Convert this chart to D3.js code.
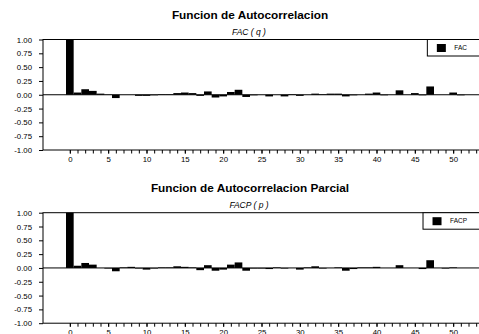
<!DOCTYPE html>
<html>
<head>
<meta charset="utf-8">
<script src="https://cdn.jsdelivr.net/npm/d3@7"></script>
<style>
  body { margin: 0; background: #fff; }
  svg { display: block; font-family: "Liberation Sans", Arial, sans-serif; }
</style>
</head>
<body>
<div id="chart"></div>
<script>
// lags 0..51
const lags = d3.range(0, 52);
const facValues = [1.00, 0.04, 0.10, 0.07, 0.02, 0.005, -0.06, 0.00, 0.00, -0.02,
  -0.02, -0.01, 0.01, 0.01, 0.03, 0.04, 0.03, -0.02, 0.06, -0.05,
  -0.03, 0.05, 0.09, -0.04, -0.01, 0.00, -0.03, 0.00, -0.03, 0.01,
  -0.02, 0.00, 0.02, 0.01, 0.02, 0.02, -0.03, -0.01, 0.00, 0.02,
  0.04, -0.01, 0.00, 0.08, 0.00, 0.03, -0.01, 0.15, 0.00, 0.00,
  0.04, -0.01];
const facpValues = [1.00, 0.04, 0.09, 0.06, 0.00, -0.01, -0.06, 0.01, 0.02, -0.01,
  -0.03, -0.01, 0.01, 0.01, 0.03, 0.02, 0.01, -0.04, 0.05, -0.05,
  -0.03, 0.06, 0.10, -0.05, -0.01, -0.01, -0.02, 0.01, -0.01, 0.00,
  -0.03, 0.01, 0.03, -0.01, 0.00, 0.01, -0.05, -0.02, 0.01, 0.01,
  0.02, 0.00, 0.00, 0.05, 0.00, 0.00, -0.02, 0.14, 0.00, -0.01,
  0.01, 0.00];
const yTicks = [-1, -0.75, -0.5, -0.25, 0, 0.25, 0.5, 0.75, 1];
const xMajorTicks = d3.range(0, 51, 5);
const xMinorTicks = d3.range(0, 54);

const W = 479, H = 334;
const svg = d3.select("#chart").append("svg").attr("width", W).attr("height", H);

const x = d3.scaleLinear().domain([-3.5, 53.5]).range([43, 480]);

function drawPanel(top, title, subtitle, legendLabel, values){
  const g = svg.append("g");
  const yTop = top + 39.5, yBot = top + 150;
  const y = d3.scaleLinear().domain([-1, 1]).range([yBot, yTop]);

  g.append("text").attr("x", 250).attr("y", top + 19)
    .attr("text-anchor", "middle").style("font-size", "11.8px").style("font-weight", "bold")
    .text(title);
  g.append("text").attr("x", 249).attr("y", top + 35)
    .attr("text-anchor", "middle").style("font-size", "8.5px").style("font-style", "italic")
    .text(subtitle);

  // frame (right side falls outside the picture)
  g.append("rect").attr("x", x.range()[0]).attr("y", yTop)
    .attr("width", 500 - x.range()[0]).attr("height", yBot - yTop)
    .attr("fill", "none").attr("stroke", "#000").attr("stroke-width", 1);

  // bars
  const bw = x(1) - x(0);
  g.selectAll(".bar").data(lags).enter().append("rect")
    .attr("x", (d) => x(d) - bw / 2)
    .attr("y", (d) => y(Math.max(0, values[d])))
    .attr("width", bw)
    .attr("height", (d) => Math.abs(y(values[d]) - y(0)))
    .attr("fill", "#000");

  g.append("line").attr("x1", x.range()[0]).attr("x2", W)
    .attr("y1", y(0)).attr("y2", y(0)).attr("stroke", "#000").attr("stroke-width", 1);

  // y axis
  const yAxis = d3.axisLeft(y).tickValues(yTicks).tickSize(4).tickPadding(7)
    .tickFormat((d) => d.toFixed(2));
  const ya = g.append("g").attr("transform", "translate(" + x.range()[0] + ",0)").call(yAxis);
  ya.select(".domain").remove();
  ya.selectAll("text").style("font-size", "7.8px").attr("fill", "#000").style("font-family", "inherit");

  // x axis: minor ticks then labelled ones
  const xa = g.append("g").attr("transform", "translate(0," + yBot + ")")
    .call(d3.axisBottom(x).tickValues(xMinorTicks).tickSize(3.5).tickFormat(""));
  xa.select(".domain").remove();
  const xl = g.append("g").attr("transform", "translate(0," + yBot + ")")
    .call(d3.axisBottom(x).tickValues(xMajorTicks).tickSize(3.5).tickPadding(2.5).tickFormat(d3.format("d")));
  xl.select(".domain").remove();
  xl.selectAll("text").style("font-size", "7.8px").attr("fill", "#000").style("font-family", "inherit");

  // legend
  const legend = g.append("g");
  const box = legend.append("rect");
  const lt = legend.append("text").style("font-size", "6.5px").text(legendLabel);
  const tl = lt.node().getComputedTextLength();
  const bx = W - 39 - tl;
  box.attr("x", bx).attr("y", yTop)
    .attr("width", 100).attr("height", 16.5)
    .attr("fill", "#fff").attr("stroke", "#000").attr("stroke-width", 1);
  legend.append("rect").attr("x", bx + 9.5).attr("y", yTop + 4.5)
    .attr("width", 9).attr("height", 8).attr("fill", "#000");
  lt.attr("x", bx + 27).attr("y", yTop + 10.5);
}

drawPanel(0, "Funcion de Autocorrelacion", "FAC ( q )", "FAC", facValues);
drawPanel(173.2, "Funcion de Autocorrelacion Parcial", "FACP ( p )", "FACP", facpValues);
</script>
</body>
</html>
